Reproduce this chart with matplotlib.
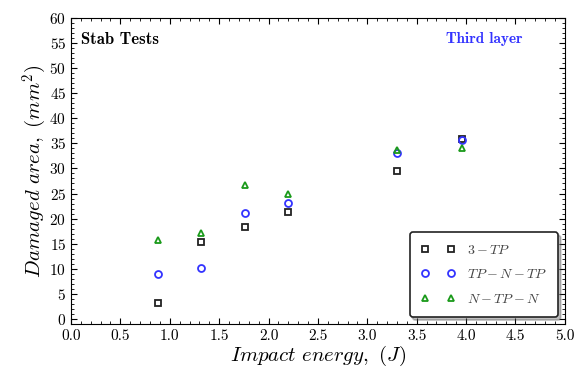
import matplotlib
matplotlib.use('Agg')
import matplotlib.pyplot as plt
from matplotlib.ticker import MultipleLocator, AutoMinorLocator

plt.rcParams['font.family'] = 'cmr10'
plt.rcParams['mathtext.fontset'] = 'cm'
plt.rcParams['axes.formatter.use_mathtext'] = True

# impact energy (J) and damaged area (mm^2) for each laminate stacking
energy = [0.88, 1.32, 1.76, 2.20, 3.30, 3.96]
area_3tp = [3.3, 15.3, 18.4, 21.3, 29.5, 35.9]
area_tpntp = [8.9, 10.1, 21.2, 23.1, 33.0, 35.6]
area_ntpn = [15.8, 17.1, 26.8, 24.9, 33.7, 34.1]
labels = [r'$3-TP$', r'$TP-N-TP$', r'$N-TP-N$']

fig = plt.figure(figsize=(5.77, 3.68), dpi=100)
ax = fig.add_axes([0.123, 0.119, 0.856, 0.833])

ax.plot(energy, area_3tp, 's', mfc='none', mec='#222222', mew=1.3, ms=4.5, label=labels[0])
ax.plot(energy, area_tpntp, 'o', mfc='none', mec='#3333ff', mew=1.3, ms=5, label=labels[1])
ax.plot(energy, area_ntpn, '^', mfc='none', mec='#1a9a1a', mew=1.3, ms=4.5, label=labels[2])

ax.set_xlim(0, 5)
ax.set_ylim(-1, 60)
ax.xaxis.set_major_locator(MultipleLocator(0.5))
ax.yaxis.set_major_locator(MultipleLocator(5))
ax.xaxis.set_minor_locator(AutoMinorLocator(5))
ax.yaxis.set_minor_locator(AutoMinorLocator(5))
ax.tick_params(which='both', direction='in', top=True, right=True, labelsize=11)
ax.tick_params(which='major', length=4)
ax.tick_params(which='minor', length=2)
ax.xaxis.set_major_formatter(plt.FuncFormatter(lambda v, p: '%.1f' % v))

ax.set_xlabel(r'$Impact\ energy,\ (J)$', fontsize=15, labelpad=1)
ax.set_ylabel(r'$Damaged\ area,\ (mm^2)$', fontsize=15, labelpad=0)

ax.text(0.02, 0.93, 'Stab Tests', transform=ax.transAxes, fontsize=12,
        family='cmb10', va='center')
ax.text(0.836, 0.93, 'Third layer', transform=ax.transAxes, fontsize=11,
        family='cmb10', color='#3333ff', va='center', ha='center')

leg = ax.legend(loc='lower right', numpoints=2, fontsize=10, fancybox=True,
                shadow={'alpha': 0.35}, borderpad=0.8, labelspacing=0.85,
                handlelength=2.5, framealpha=1)
leg.get_frame().set_edgecolor('#222222')
leg.get_frame().set_linewidth(1.2)
for t in leg.get_texts():
    t.set_color('#444444')

fig.savefig('out.png', dpi=100)
